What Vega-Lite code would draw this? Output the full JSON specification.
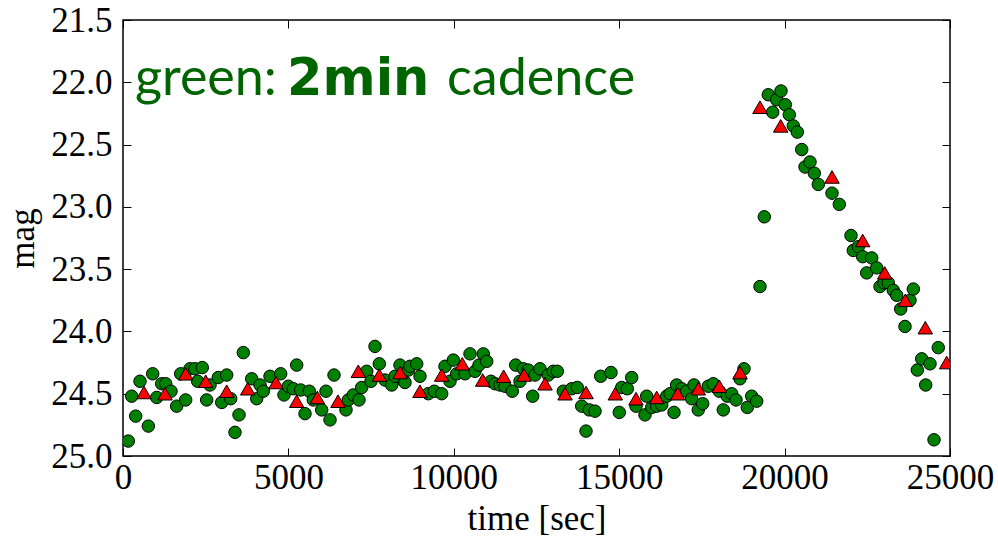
{
  "$schema": "https://vega.github.io/schema/vega-lite/v6.json",
  "width": 827,
  "height": 436,
  "autosize": {"type": "none"},
  "padding": {"left": 123, "top": 20, "right": 48, "bottom": 90},
  "background": "white",
  "config": {
    "view": {"stroke": "black", "strokeWidth": 1.5},
    "axis": {
      "grid": false,
      "domain": false,
      "tickColor": "black",
      "tickWidth": 1,
      "tickSize": -8,
      "labelFlush": false,
      "labelOverlap": false,
      "labelFont": "Liberation Serif",
      "labelFontSize": 35,
      "labelColor": "black",
      "titleFont": "Liberation Serif",
      "titleFontSize": 35,
      "titleFontWeight": "normal",
      "titleColor": "black"
    }
  },
  "datasets": {
    "circles": [
      {"t": 160, "mag": 24.88}, {"t": 263, "mag": 24.52}, {"t": 384, "mag": 24.68}, {"t": 514, "mag": 24.40},
      {"t": 765, "mag": 24.76}, {"t": 898, "mag": 24.34}, {"t": 1019, "mag": 24.53}, {"t": 1170, "mag": 24.42},
      {"t": 1291, "mag": 24.42}, {"t": 1451, "mag": 24.48}, {"t": 1623, "mag": 24.60}, {"t": 1744, "mag": 24.34},
      {"t": 1895, "mag": 24.55}, {"t": 2025, "mag": 24.30}, {"t": 2177, "mag": 24.30}, {"t": 2258, "mag": 24.40},
      {"t": 2397, "mag": 24.29}, {"t": 2530, "mag": 24.55}, {"t": 2630, "mag": 24.43}, {"t": 2881, "mag": 24.37},
      {"t": 2984, "mag": 24.57}, {"t": 3135, "mag": 24.35}, {"t": 3256, "mag": 24.54}, {"t": 3386, "mag": 24.81},
      {"t": 3507, "mag": 24.67}, {"t": 3637, "mag": 24.17}, {"t": 3891, "mag": 24.38}, {"t": 4042, "mag": 24.54},
      {"t": 4142, "mag": 24.43}, {"t": 4241, "mag": 24.48}, {"t": 4444, "mag": 24.36}, {"t": 4767, "mag": 24.34},
      {"t": 4867, "mag": 24.51}, {"t": 4997, "mag": 24.44}, {"t": 5148, "mag": 24.46}, {"t": 5251, "mag": 24.27},
      {"t": 5372, "mag": 24.47}, {"t": 5502, "mag": 24.66}, {"t": 5632, "mag": 24.48}, {"t": 5753, "mag": 24.55},
      {"t": 6007, "mag": 24.63}, {"t": 6137, "mag": 24.48}, {"t": 6258, "mag": 24.71}, {"t": 6379, "mag": 24.35},
      {"t": 6741, "mag": 24.63}, {"t": 6811, "mag": 24.55}, {"t": 6962, "mag": 24.51}, {"t": 7134, "mag": 24.55},
      {"t": 7216, "mag": 24.45}, {"t": 7367, "mag": 24.32}, {"t": 7497, "mag": 24.40}, {"t": 7618, "mag": 24.12},
      {"t": 7748, "mag": 24.26}, {"t": 7920, "mag": 24.39}, {"t": 8123, "mag": 24.43}, {"t": 8223, "mag": 24.36},
      {"t": 8374, "mag": 24.27}, {"t": 8495, "mag": 24.40}, {"t": 8525, "mag": 24.41}, {"t": 8625, "mag": 24.31},
      {"t": 8676, "mag": 24.28}, {"t": 8879, "mag": 24.26}, {"t": 8978, "mag": 24.36}, {"t": 9229, "mag": 24.50},
      {"t": 9411, "mag": 24.48}, {"t": 9634, "mag": 24.50}, {"t": 9734, "mag": 24.28}, {"t": 9885, "mag": 24.40},
      {"t": 9985, "mag": 24.23}, {"t": 10088, "mag": 24.34}, {"t": 10339, "mag": 24.34}, {"t": 10490, "mag": 24.18},
      {"t": 10641, "mag": 24.32}, {"t": 10762, "mag": 24.27}, {"t": 10892, "mag": 24.18}, {"t": 10995, "mag": 24.24},
      {"t": 11125, "mag": 24.40}, {"t": 11246, "mag": 24.42}, {"t": 11397, "mag": 24.43}, {"t": 11548, "mag": 24.44},
      {"t": 11769, "mag": 24.48}, {"t": 11871, "mag": 24.27}, {"t": 12001, "mag": 24.40}, {"t": 12101, "mag": 24.30},
      {"t": 12252, "mag": 24.31}, {"t": 12385, "mag": 24.52}, {"t": 12455, "mag": 24.35}, {"t": 12606, "mag": 24.30},
      {"t": 12857, "mag": 24.35}, {"t": 13008, "mag": 24.32}, {"t": 13129, "mag": 24.32}, {"t": 13310, "mag": 24.48},
      {"t": 13564, "mag": 24.46}, {"t": 13734, "mag": 24.45}, {"t": 13867, "mag": 24.60}, {"t": 13997, "mag": 24.80},
      {"t": 14096, "mag": 24.63}, {"t": 14269, "mag": 24.64}, {"t": 14441, "mag": 24.36}, {"t": 14752, "mag": 24.33},
      {"t": 15003, "mag": 24.65}, {"t": 15076, "mag": 24.45}, {"t": 15245, "mag": 24.46}, {"t": 15378, "mag": 24.37},
      {"t": 15508, "mag": 24.60}, {"t": 15780, "mag": 24.67}, {"t": 15831, "mag": 24.52}, {"t": 15983, "mag": 24.61},
      {"t": 16134, "mag": 24.60}, {"t": 16285, "mag": 24.59}, {"t": 16436, "mag": 24.52}, {"t": 16536, "mag": 24.50},
      {"t": 16657, "mag": 24.65}, {"t": 16738, "mag": 24.43}, {"t": 16889, "mag": 24.46}, {"t": 17040, "mag": 24.48},
      {"t": 17191, "mag": 24.54}, {"t": 17261, "mag": 24.43}, {"t": 17391, "mag": 24.63}, {"t": 17524, "mag": 24.58},
      {"t": 17693, "mag": 24.44}, {"t": 17845, "mag": 24.42}, {"t": 18026, "mag": 24.48}, {"t": 18147, "mag": 24.63},
      {"t": 18268, "mag": 24.52}, {"t": 18401, "mag": 24.50}, {"t": 18531, "mag": 24.55}, {"t": 18652, "mag": 24.38},
      {"t": 18773, "mag": 24.30}, {"t": 18873, "mag": 24.61}, {"t": 19006, "mag": 24.52}, {"t": 19157, "mag": 24.56},
      {"t": 19256, "mag": 23.64}, {"t": 19386, "mag": 23.08}, {"t": 19507, "mag": 22.10}, {"t": 19640, "mag": 22.24},
      {"t": 19761, "mag": 22.14}, {"t": 19891, "mag": 22.07}, {"t": 20021, "mag": 22.18}, {"t": 20142, "mag": 22.26},
      {"t": 20263, "mag": 22.35}, {"t": 20384, "mag": 22.40}, {"t": 20517, "mag": 22.54}, {"t": 20617, "mag": 22.68},
      {"t": 20768, "mag": 22.64}, {"t": 20898, "mag": 22.73}, {"t": 21019, "mag": 22.82}, {"t": 21433, "mag": 22.89},
      {"t": 21654, "mag": 22.98}, {"t": 22008, "mag": 23.23}, {"t": 22077, "mag": 23.35}, {"t": 22228, "mag": 23.32},
      {"t": 22361, "mag": 23.40}, {"t": 22482, "mag": 23.53}, {"t": 22633, "mag": 23.41}, {"t": 22784, "mag": 23.49},
      {"t": 22884, "mag": 23.64}, {"t": 23005, "mag": 23.61}, {"t": 23135, "mag": 23.61}, {"t": 23286, "mag": 23.67},
      {"t": 23389, "mag": 23.71}, {"t": 23510, "mag": 23.82}, {"t": 23640, "mag": 23.96}, {"t": 23791, "mag": 23.75},
      {"t": 23891, "mag": 23.66}, {"t": 24012, "mag": 24.31}, {"t": 24145, "mag": 24.22}, {"t": 24266, "mag": 24.43},
      {"t": 24396, "mag": 24.26}, {"t": 24517, "mag": 24.87}, {"t": 24646, "mag": 24.13}
    ],
    "triangles": [
      {"t": 635, "mag": 24.49}, {"t": 1270, "mag": 24.50}, {"t": 1895, "mag": 24.34}, {"t": 2500, "mag": 24.40},
      {"t": 3135, "mag": 24.48}, {"t": 3770, "mag": 24.46}, {"t": 4625, "mag": 24.41}, {"t": 5251, "mag": 24.56},
      {"t": 5874, "mag": 24.53}, {"t": 6499, "mag": 24.56}, {"t": 7113, "mag": 24.32}, {"t": 7748, "mag": 24.35},
      {"t": 8374, "mag": 24.33}, {"t": 8978, "mag": 24.48}, {"t": 9634, "mag": 24.35}, {"t": 10257, "mag": 24.26},
      {"t": 10874, "mag": 24.39}, {"t": 11508, "mag": 24.36}, {"t": 12122, "mag": 24.35}, {"t": 12757, "mag": 24.42},
      {"t": 13362, "mag": 24.50}, {"t": 13997, "mag": 24.49}, {"t": 14882, "mag": 24.50}, {"t": 15508, "mag": 24.54},
      {"t": 16134, "mag": 24.53}, {"t": 16768, "mag": 24.50}, {"t": 17391, "mag": 24.46}, {"t": 18026, "mag": 24.44},
      {"t": 18652, "mag": 24.33}, {"t": 19256, "mag": 22.20}, {"t": 19882, "mag": 22.35}, {"t": 21433, "mag": 22.76},
      {"t": 22361, "mag": 23.27}, {"t": 23026, "mag": 23.53}, {"t": 23649, "mag": 23.75}, {"t": 24254, "mag": 23.97},
      {"t": 24900, "mag": 24.25}
    ],
    "label_regular": [
      {"t": 363, "mag": 22.1, "txt": "green:"},
      {"t": 9795, "mag": 22.1, "txt": "cadence"}
    ],
    "label_bold": [
      {"t": 4958, "mag": 22.1, "txt": "2min"}
    ]
  },
  "layer": [
    {
      "data": {"name": "circles"},
      "mark": {"type": "point", "shape": "circle", "filled": true, "fill": "#008000", "stroke": "black", "strokeWidth": 1, "size": 155, "opacity": 1, "clip": true},
      "encoding": {
        "x": {"field": "t", "type": "quantitative", "scale": {"domain": [0, 25000], "nice": false, "zero": false, "padding": 0},
              "axis": {"orient": "bottom", "title": "time [sec]", "values": [0, 5000, 10000, 15000, 20000, 25000], "format": "d", "labelPadding": 12, "titlePadding": 6}},
        "y": {"field": "mag", "type": "quantitative", "scale": {"domain": [21.5, 25.0], "nice": false, "zero": false, "reverse": true, "padding": 0},
              "axis": {"orient": "left", "title": "mag", "values": [21.5, 22, 22.5, 23, 23.5, 24, 24.5, 25], "format": ".1f", "labelPadding": 19, "titlePadding": 10}}
      }
    },
    {
      "data": {"name": "triangles"},
      "mark": {"type": "point", "shape": "triangle-up", "filled": true, "fill": "#ff0000", "stroke": "black", "strokeWidth": 1, "size": 210, "opacity": 1, "clip": true},
      "encoding": {
        "x": {"field": "t", "type": "quantitative", "scale": {"domain": [0, 25000], "nice": false, "zero": false, "padding": 0},
              "axis": {"orient": "top", "title": null, "labels": false, "values": [0, 5000, 10000, 15000, 20000, 25000]}},
        "y": {"field": "mag", "type": "quantitative", "scale": {"domain": [21.5, 25.0], "nice": false, "zero": false, "reverse": true, "padding": 0},
              "axis": {"orient": "right", "title": null, "labels": false, "values": [21.5, 22, 22.5, 23, 23.5, 24, 24.5, 25]}}
      }
    },
    {
      "data": {"name": "label_regular"},
      "mark": {"type": "text", "align": "left", "baseline": "alphabetic", "font": "Lato", "fontSize": 52, "fill": "#006400"},
      "encoding": {
        "x": {"field": "t", "type": "quantitative", "scale": {"domain": [0, 25000], "nice": false, "zero": false, "padding": 0}, "axis": null},
        "y": {"field": "mag", "type": "quantitative", "scale": {"domain": [21.5, 25.0], "nice": false, "zero": false, "reverse": true, "padding": 0}, "axis": null},
        "text": {"field": "txt"}
      }
    },
    {
      "data": {"name": "label_bold"},
      "mark": {"type": "text", "align": "left", "baseline": "alphabetic", "font": "DejaVu Sans", "fontWeight": "bold", "fontSize": 51, "fill": "#006400"},
      "encoding": {
        "x": {"field": "t", "type": "quantitative", "scale": {"domain": [0, 25000], "nice": false, "zero": false, "padding": 0}, "axis": null},
        "y": {"field": "mag", "type": "quantitative", "scale": {"domain": [21.5, 25.0], "nice": false, "zero": false, "reverse": true, "padding": 0}, "axis": null},
        "text": {"field": "txt"}
      }
    }
  ],
  "resolve": {"axis": {"x": "independent", "y": "independent"}}
}
